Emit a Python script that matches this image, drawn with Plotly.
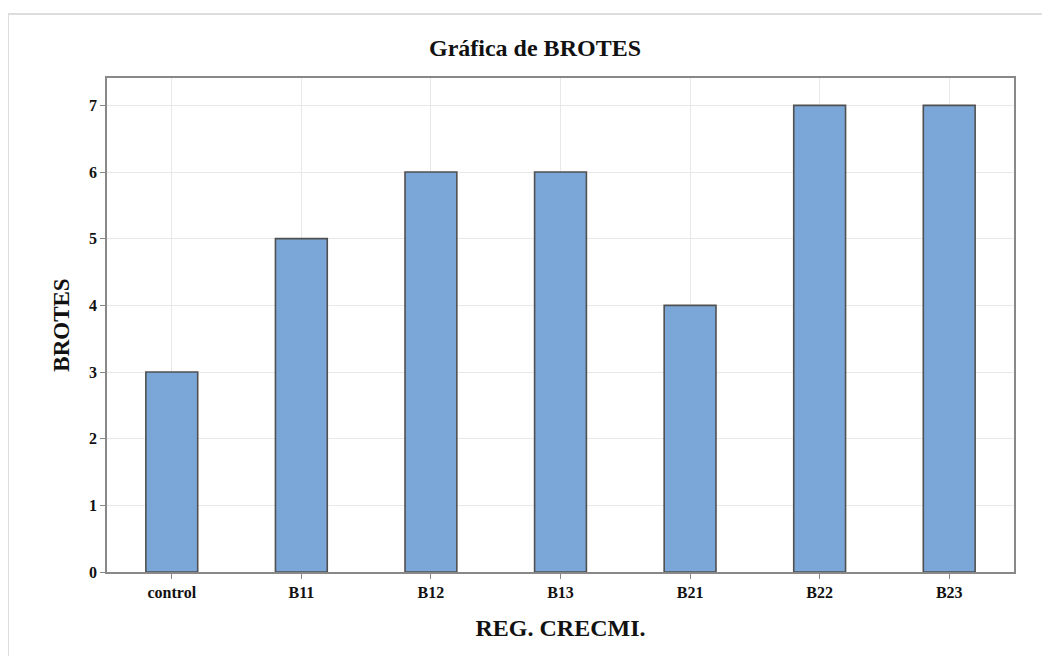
import plotly.graph_objects as go

categories = ["control", "B11", "B12", "B13", "B21", "B22", "B23"]
brotes = [3, 5, 6, 6, 4, 7, 7]
y_ticks = [0, 1, 2, 3, 4, 5, 6, 7]

W, H = 1050, 656
OFF = 8  # page body margin offset
L, R, T, B = 107 - OFF, 44, 78 - OFF, 92
pw, ph = W - L - R, H - T - B

font = "Liberation Serif, Times New Roman, serif"
tick_font = dict(family=font, size=16, color="#111111", weight="bold")

fig = go.Figure(go.Bar(
    x=categories, y=brotes, width=0.4,
    marker=dict(color="#7BA6D8", line=dict(color="#505050", width=1.6)),
))

fig.update_layout(
    width=W, height=H,
    margin=dict(l=L, r=R, t=T, b=B),
    paper_bgcolor="white", plot_bgcolor="white",
    showlegend=False,
    title=dict(text="<b>Gráfica de BROTES</b>", x=(535 - 107) / 907, xref="paper", xanchor="center",
               y=1 - (48 - OFF) / H, yanchor="middle",
               font=dict(family=font, size=24, color="#111111")),
    font=dict(family=font, color="#111111"),
    shapes=[dict(type="rect", xref="paper", yref="paper",
                 x0=(0 - L) / pw, x1=1.2, y0=-0.4, y1=1 + (T - 6) / ph,
                 line=dict(color="#dddddd", width=2), layer="below")],
)

fig.update_xaxes(
    range=[-0.5, 6.5], showgrid=True, gridcolor="#e8e8e8", gridwidth=1,
    showline=True, linecolor="#888888", linewidth=1.5, mirror=True,
    ticks="outside", ticklen=5, tickcolor="#888888",
    tickfont=tick_font,
    title=dict(text="<b>REG. CRECMI.</b>", font=dict(family=font, size=24, color="#111111"), standoff=19),
)
fig.update_yaxes(
    range=[0, 7.41], tickvals=y_ticks, showgrid=True, gridcolor="#e8e8e8", gridwidth=1,
    showline=True, linecolor="#888888", linewidth=1.5, mirror=True, zeroline=False,
    ticks="outside", ticklen=5, tickcolor="#888888",
    tickfont=tick_font,
    title=dict(text="<b>BROTES</b>", font=dict(family=font, size=23, color="#111111"), standoff=13),
)

fig.write_html("out.html")
